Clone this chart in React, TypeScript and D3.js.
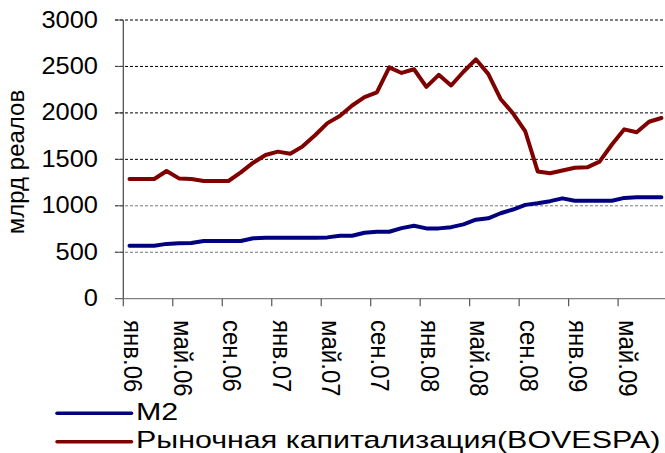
import React from "react";
import * as d3 from "d3";

const months: string[] = [
  "янв.06","фев.06","мар.06","апр.06","май.06","июн.06","июл.06","авг.06","сен.06","окт.06","ноя.06","дек.06",
  "янв.07","фев.07","мар.07","апр.07","май.07","июн.07","июл.07","авг.07","сен.07","окт.07","ноя.07","дек.07",
  "янв.08","фев.08","мар.08","апр.08","май.08","июн.08","июл.08","авг.08","сен.08","окт.08","ноя.08","дек.08",
  "янв.09","фев.09","мар.09","апр.09","май.09","июн.09","июл.09","авг.09",
];
const tickLabelIdx: number[] = [0, 4, 8, 12, 16, 20, 24, 28, 32, 36, 40];

const m2: number[] = [
  571, 571, 571, 590, 596, 600, 621, 621, 621, 621, 650, 657,
  657, 657, 657, 657, 660, 678, 678, 710, 721, 721, 760, 786,
  757, 757, 770, 800, 850, 865, 920, 960, 1010, 1027, 1050, 1080,
  1055, 1055, 1055, 1055, 1085, 1091, 1091, 1091,
];
const bovespa: number[] = [
  1288, 1288, 1288, 1375, 1295, 1288, 1267, 1267, 1267, 1360, 1464, 1547,
  1583, 1560, 1640, 1760, 1890, 1966, 2080, 2170, 2220, 2490, 2430, 2470,
  2280, 2410, 2295, 2443, 2577, 2420, 2150, 1996, 1800, 1370, 1350, 1380,
  1410, 1414, 1475, 1660, 1823, 1791, 1905, 1945,
];
const yTicks: number[] = [0, 500, 1000, 1500, 2000, 2500, 3000];
const seriesNames: string[] = ["M2", "Рыночная капитализация(BOVESPA)"];
const seriesColors: string[] = ["#000080", "#800000"];

const W = 665;
const H = 453;
const FONT = "'Liberation Sans', Arial, sans-serif";

export default function App() {
  const x0 = 123.3;
  const step = 12.37;
  const x = d3.scaleLinear().domain([0, months.length]).range([x0, x0 + step * months.length]);
  const y = d3.scaleLinear().domain([0, 3000]).range([298.7, 20]);
  const line = d3
    .line<number>()
    .x((_, i) => x(i + 0.5))
    .y((d) => y(d));

  const series = [m2, bovespa];

  return (
    <svg
      width={W}
      height={H}
      style={{ position: "absolute", left: 0, top: 0, background: "#fff" }}
      fontFamily={FONT}
    >
      <rect width={W} height={H} fill="#fff" />
      {yTicks.filter((t) => t > 0).map((t) => (
        <line
          key={t}
          x1={115}
          x2={W}
          y1={y(t)}
          y2={y(t)}
          stroke={t <= 1000 ? "#777" : "#000"}
          strokeWidth={1}
          strokeDasharray="3,2"
        />
      ))}
      {yTicks.map((t) => (
        <line key={"yt" + t} x1={115} x2={123.3} y1={y(t)} y2={y(t)} stroke="#444" strokeWidth={1} />
      ))}
      <line x1={x0} x2={x0} y1={y(3000)} y2={y(0)} stroke="#444" strokeWidth={1.2} />
      <line x1={x0} x2={W} y1={y(0)} y2={y(0)} stroke="#808080" strokeWidth={1.2} />
      {tickLabelIdx.map((i) => (
        <line key={"xt" + i} x1={x(i)} x2={x(i)} y1={y(0)} y2={y(0) + 7.5} stroke="#555" strokeWidth={1.2} />
      ))}
      {yTicks.map((t) => (
        <text
          key={"yl" + t}
          transform={`translate(98,${y(t) + 7.5}) scale(1.06,1)`}
          textAnchor="end"
          fontSize={24}
          fill="#000"
        >
          {t}
        </text>
      ))}
      <text
        transform={`translate(24,162) rotate(-90)`}
        textAnchor="middle"
        fontSize={24}
        fill="#000"
      >
        млрд реалов
      </text>
      {tickLabelIdx.map((i) => (
        <text
          key={"xl" + i}
          transform={`translate(${x(i + 0.5) - 5.4},320) rotate(90) scale(1,1.1)`}
          textAnchor="start"
          fontSize={24}
          fill="#000"
        >
          {months[i]}
        </text>
      ))}
      {series.map((s, k) => (
        <path
          key={"s" + k}
          d={line(s) || ""}
          fill="none"
          stroke={seriesColors[k]}
          strokeWidth={4}
          strokeLinejoin="round"
          strokeLinecap="round"
        />
      ))}
      {seriesNames.map((n, k) => (
        <g key={"lg" + k} transform={`translate(0,${413.3 + k * 28.4})`}>
          <line x1={57} x2={131.5} y1={0} y2={0} stroke={seriesColors[k]} strokeWidth={3.5} strokeLinecap="round" />
          <text transform="translate(136,6.6) scale(1.295,1)" fontSize={23.5} fill="#000">
            {n}
          </text>
        </g>
      ))}
    </svg>
  );
}
